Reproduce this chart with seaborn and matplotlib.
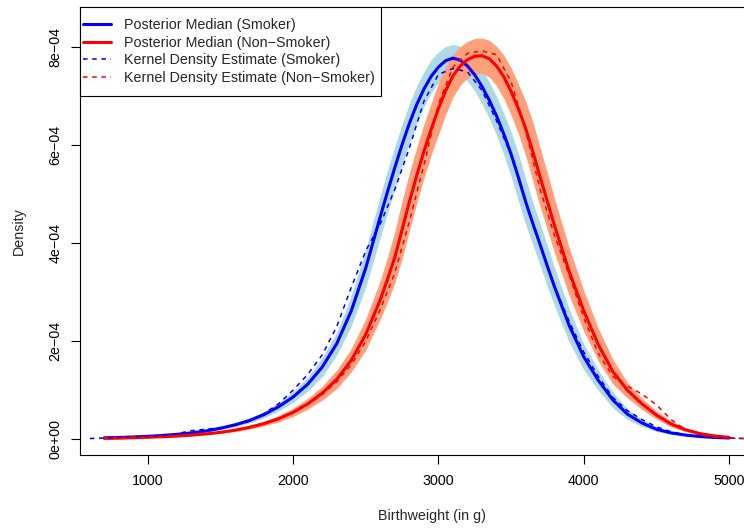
import matplotlib
matplotlib.use("Agg")
import numpy as np
import matplotlib.pyplot as plt
from matplotlib.patches import Rectangle
from matplotlib.transforms import IdentityTransform
import seaborn as sns

# Birthweight grids (g); finer steps around the modes
weight_grid = (list(range(700, 2601, 100)) + list(range(2650, 3751, 50))
               + list(range(3800, 5001, 100)))
kde_grid_smoker = list(range(600, 5301, 100))
kde_grid_nonsmoker = list(range(800, 5301, 100))

# Posterior median densities (units of 1e-4)
median_smoker = [0.024, 0.032, 0.042, 0.055, 0.072, 0.095, 0.125, 0.165, 0.22, 0.29,
                 0.38, 0.50, 0.66, 0.86, 1.12, 1.47, 1.95, 2.62, 3.50, 4.55,
                 5.06, 5.55, 6.02, 6.45, 6.83, 7.15, 7.41, 7.60, 7.73, 7.78,
                 7.74, 7.62, 7.44, 7.20, 6.92, 6.60, 6.23, 5.82, 5.35, 4.85,
                 4.40, 3.97, 3.53,
                 3.10, 2.32, 1.68, 1.20, 0.80, 0.51, 0.33, 0.20, 0.125, 0.08,
                 0.05, 0.032, 0.02]
median_nonsmoker = [0.0125, 0.017, 0.026, 0.035, 0.046, 0.060, 0.079, 0.104, 0.137, 0.181,
                    0.240, 0.316, 0.415, 0.546, 0.719, 0.937, 1.22, 1.61, 2.14, 2.85,
                    3.27, 3.72, 4.28, 4.85, 5.38, 5.88, 6.33, 6.75, 7.12, 7.42,
                    7.62, 7.75, 7.82, 7.83, 7.77, 7.62, 7.40, 7.10, 6.75, 6.35,
                    5.87, 5.35, 4.85,
                    4.35, 3.42, 2.62, 1.93, 1.38, 1.00, 0.72, 0.49, 0.31, 0.19,
                    0.11, 0.062, 0.034]

# Half-width of the pointwise credible bands (units of 1e-5)
band_half_smoker = [0.04, 0.045, 0.055, 0.07, 0.095, 0.125, 0.165, 0.22, 0.29, 0.37,
                    0.49, 0.65, 0.84, 1.08, 1.43, 1.94, 2.3, 3.1, 3.9, 4.3,
                    4.35, 4.3, 4.2, 4.0, 3.8, 3.55, 3.38, 3.11, 2.90, 2.80,
                    2.89, 3.07, 3.30, 3.52, 3.72, 3.96, 4.23, 4.56, 4.86, 4.71,
                    4.35, 4.25, 4.20,
                    3.89, 3.38, 2.65, 2.07, 1.62, 1.10, 0.72, 0.47, 0.28, 0.17,
                    0.11, 0.07, 0.05]
band_half_nonsmoker = [0.032, 0.038, 0.05, 0.056, 0.07, 0.093, 0.124, 0.164, 0.216, 0.29,
                       0.38, 0.49, 0.65, 0.85, 1.10, 1.42, 1.89, 2.4, 3.2, 3.95,
                       4.6, 5.3, 5.95, 5.9, 5.7, 5.5, 5.3, 5.28, 4.88, 4.35,
                       3.94, 3.73, 3.63, 3.61, 3.75, 4.04, 4.41, 4.80, 5.11, 5.58,
                       6.04, 6.03, 5.84,
                       5.51, 4.93, 4.15, 3.33, 2.55, 1.6, 1.15, 0.85, 0.6, 0.4,
                       0.25, 0.15, 0.08]

# Kernel density estimates (units of 1e-4)
kde_smoker = [0.01, 0.02, 0.03, 0.04, 0.05, 0.07, 0.11, 0.17, 0.20, 0.23,
              0.28, 0.36, 0.52, 0.72, 1.00, 1.32, 1.72, 2.30, 3.10, 3.85,
              4.40, 5.10, 5.95, 6.90, 7.45, 7.57, 7.50, 7.12, 6.50, 5.80,
              4.85, 3.97, 3.12, 2.40, 1.78, 1.28, 0.85, 0.58, 0.40, 0.25,
              0.15, 0.09, 0.05, 0.03, 0.02, 0.01, 0.005, 0.002]
kde_nonsmoker = [0.012, 0.02, 0.03, 0.042, 0.056, 0.075, 0.10, 0.135, 0.18, 0.235,
                 0.31, 0.41, 0.54, 0.70, 0.91, 1.17, 1.52, 2.00, 2.65, 3.40,
                 4.45, 5.60, 6.85, 7.60, 7.88, 7.93, 7.85, 7.30, 6.30, 5.10,
                 4.15, 3.35, 2.48, 1.75, 1.28, 1.08, 0.92, 0.70, 0.40, 0.19,
                 0.08, 0.035, 0.02, 0.01, 0.004, 0.001]

labels = ["Posterior Median (Smoker)", "Posterior Median (Non\u2212Smoker)",
          "Kernel Density Estimate (Smoker)", "Kernel Density Estimate (Non\u2212Smoker)"]
x_ticks = [1000, 2000, 3000, 4000, 5000]
y_ticks = [0, 2e-4, 4e-4, 6e-4, 8e-4]
y_tick_labels = ["0e+00", "2e\u221204", "4e\u221204", "6e\u221204", "8e\u221204"]

sns.set_style("ticks")
plt.rcParams["font.family"] = ["Liberation Sans", "DejaVu Sans"]
plt.rcParams["font.size"] = 10.3

x = np.array(weight_grid, dtype=float)
med_s = np.array(median_smoker) * 1e-4
med_n = np.array(median_nonsmoker) * 1e-4
hw_s = np.array(band_half_smoker) * 1e-5
hw_n = np.array(band_half_nonsmoker) * 1e-5

fig = plt.figure(figsize=(7.44, 5.30), dpi=100)
ax = fig.add_axes([80 / 744, 75 / 530, 704 / 744, 448 / 530])

# credible bands
ax.fill_between(x, med_s - hw_s, med_s + hw_s, color="#ADD8E6", lw=0, zorder=1)
ax.fill_between(x, med_n - hw_n, med_n + hw_n, color="#FFA07A", lw=0, zorder=1)

# posterior medians
sns.lineplot(x=x, y=med_s, color="blue", lw=2.2, errorbar=None, ax=ax,
             label=labels[0], zorder=3)
sns.lineplot(x=x, y=med_n, color="red", lw=2.2, errorbar=None, ax=ax,
             label=labels[1], zorder=3)

# kernel density estimates
sns.lineplot(x=np.array(kde_grid_smoker, dtype=float), y=np.array(kde_smoker) * 1e-4,
             color="blue", lw=1.1, linestyle=(0, (3.0, 3.0)), errorbar=None, ax=ax,
             label=labels[2], zorder=4)
sns.lineplot(x=np.array(kde_grid_nonsmoker, dtype=float), y=np.array(kde_nonsmoker) * 1e-4,
             color="red", lw=1.1, linestyle=(0, (3.0, 3.0)), errorbar=None, ax=ax,
             label=labels[3], zorder=4)

ax.set_xlim(532, 5379)
ax.set_ylim(-3.27e-5, 8.826e-4)

ax.set_xticks(x_ticks)
ax.set_xticklabels([str(t) for t in x_ticks])
ax.set_yticks(y_ticks)
ax.set_yticklabels(y_tick_labels, rotation=90, va="center")
ax.tick_params(axis="both", direction="out", length=6.5, width=0.8, colors="black",
               labelsize=10.3)
ax.tick_params(axis="x", pad=7.5)
ax.tick_params(axis="y", pad=6)

for side in ["left", "right", "top", "bottom"]:
    ax.spines[side].set_visible(True)
    ax.spines[side].set_color("black")
    ax.spines[side].set_linewidth(0.8)

ax.set_xlabel("Birthweight (in g)", fontsize=10.3)
ax.set_ylabel("Density", fontsize=10.3)
ax.xaxis.set_label_coords(0.5, -0.1205)
ax.yaxis.set_label_coords(-0.0767, 0.5)

# legend entries, boxed in the top-left corner of the plot
handles, _ = ax.get_legend_handles_labels()
leg = ax.legend(handles=handles, labels=labels, loc="upper left",
                bbox_to_anchor=(0, 1 - 8 / 448), borderaxespad=0, frameon=False,
                fontsize=10.3, handlelength=1.95, handletextpad=0.92,
                borderpad=0.22, labelspacing=0.245)
leg.set_zorder(10)
fig.canvas.draw()
bb = leg.get_window_extent()
ax_bb = ax.get_window_extent()
frame = Rectangle((ax_bb.x0, bb.y0 - 8), bb.x1 + 3 - ax_bb.x0, ax_bb.y1 - (bb.y0 - 8),
                  transform=IdentityTransform(), facecolor="white", edgecolor="black",
                  linewidth=0.8, zorder=9, clip_on=False)
ax.add_artist(frame)

fig.savefig("out.png", dpi=100)
